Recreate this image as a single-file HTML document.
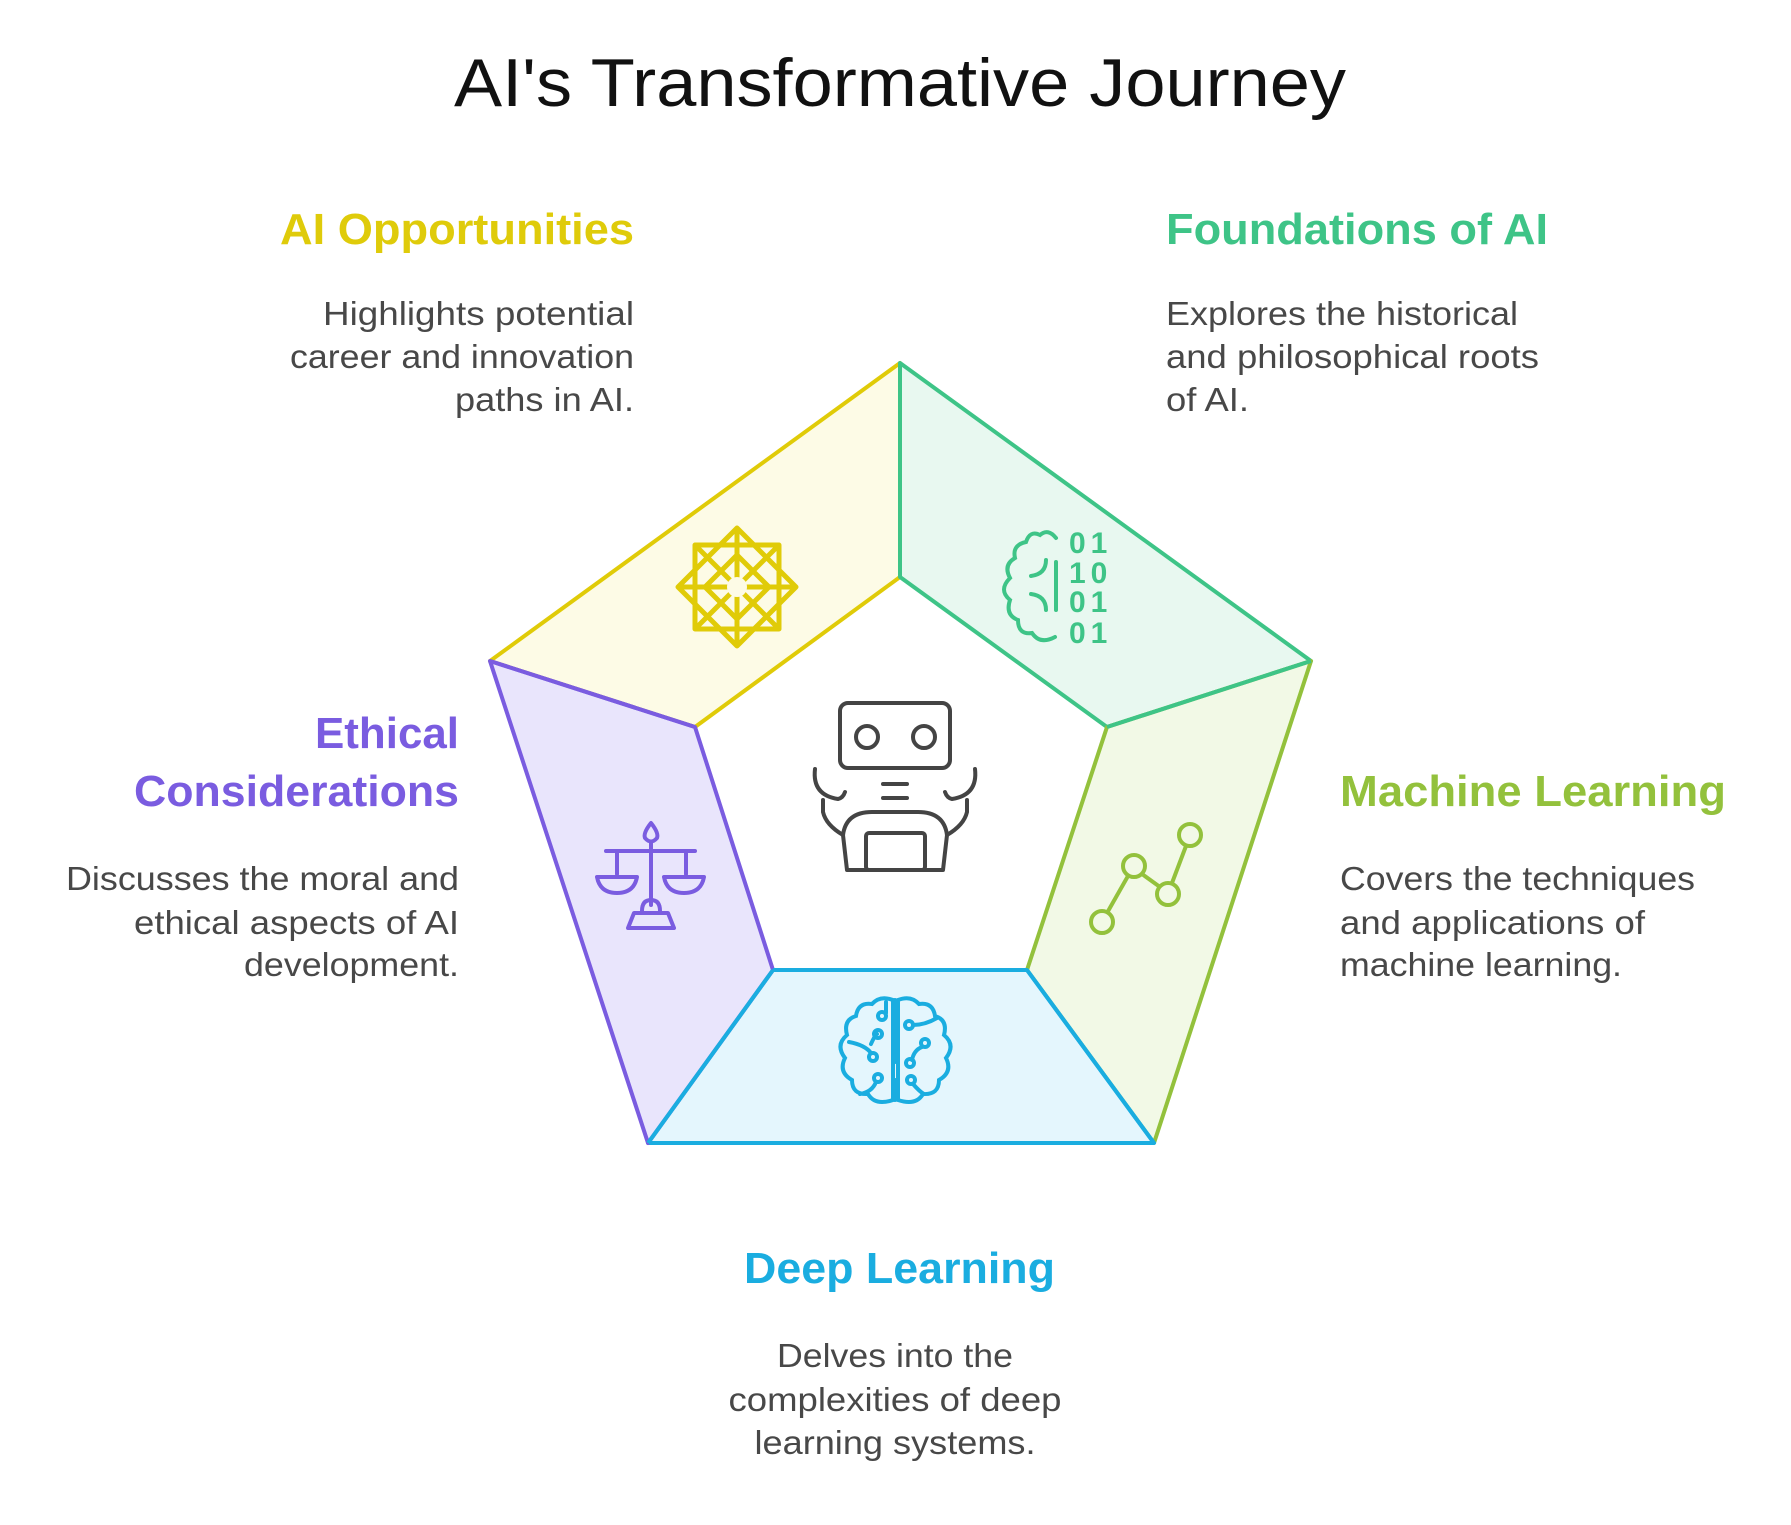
<!DOCTYPE html>
<html><head><meta charset="utf-8"><style>
html,body{margin:0;padding:0;background:#fff;}
svg{display:block}
text{font-family:"Liberation Sans",Arial,sans-serif;}
.h{font-weight:bold;font-size:44px}
.b{font-size:33px;fill:#484848}
</style></head><body>
<svg width="1791" height="1525" viewBox="0 0 1791 1525" xmlns="http://www.w3.org/2000/svg">
<rect width="1791" height="1525" fill="#fff"/>
<text x="900" y="106" text-anchor="middle" font-size="68" fill="#111" textLength="892" lengthAdjust="spacingAndGlyphs">AI's Transformative Journey</text>

<g stroke-width="4" stroke-linejoin="round">
<polygon points="900,363 900,577 695,727 490,661" fill="#fdfbe6" stroke="#e0cb08"/>
<polygon points="900,363 1311,661 1107,727 900,577" fill="#e8f8f0" stroke="#3ec487"/>
<polygon points="1311,661 1154,1143 1027,970 1107,727" fill="#f2f9e6" stroke="#93c13c"/>
<polygon points="1154,1143 648,1143 773,970 1027,970" fill="#e4f6fd" stroke="#1aade0"/>
<polygon points="648,1143 490,661 695,727 773,970" fill="#e9e5fc" stroke="#7a5ce0"/>
</g>
<g stroke-width="4" fill="none">
<line x1="900" y1="363" x2="900" y2="577" stroke="#3ec487"/>
<line x1="490" y1="661" x2="695" y2="727" stroke="#7a5ce0"/>
<line x1="1311" y1="661" x2="1107" y2="727" stroke="#3ec487"/>
<line x1="773" y1="970" x2="1027" y2="970" stroke="#1aade0"/>
<line x1="648" y1="1143" x2="773" y2="970" stroke="#1aade0"/>
<line x1="1154" y1="1143" x2="1027" y2="970" stroke="#1aade0"/>
</g>

<text class="h" x="634" y="244" text-anchor="end" fill="#dfcb0a" textLength="354" lengthAdjust="spacingAndGlyphs">AI Opportunities</text>
<text class="h" x="1166" y="244" fill="#3ec487" textLength="382" lengthAdjust="spacingAndGlyphs">Foundations of AI</text>
<text class="h" x="459" y="748" text-anchor="end" fill="#7a5ce0" textLength="144" lengthAdjust="spacingAndGlyphs">Ethical</text>
<text class="h" x="459" y="806" text-anchor="end" fill="#7a5ce0" textLength="325" lengthAdjust="spacingAndGlyphs">Considerations</text>
<text class="h" x="1340" y="806" fill="#93c13c" textLength="386" lengthAdjust="spacingAndGlyphs">Machine Learning</text>
<text class="h" x="744" y="1283" fill="#1aade0" textLength="311" lengthAdjust="spacingAndGlyphs">Deep Learning</text>

<g>
<text class="b" x="634" y="325" text-anchor="end" textLength="311" lengthAdjust="spacingAndGlyphs">Highlights potential</text>
<text class="b" x="634" y="368" text-anchor="end" textLength="344" lengthAdjust="spacingAndGlyphs">career and innovation</text>
<text class="b" x="634" y="411" text-anchor="end" textLength="179" lengthAdjust="spacingAndGlyphs">paths in AI.</text>
<text class="b" x="1166" y="325" textLength="352" lengthAdjust="spacingAndGlyphs">Explores the historical</text>
<text class="b" x="1166" y="368" textLength="373" lengthAdjust="spacingAndGlyphs">and philosophical roots</text>
<text class="b" x="1166" y="411" textLength="83" lengthAdjust="spacingAndGlyphs">of AI.</text>
<text class="b" x="459" y="890" text-anchor="end" textLength="393" lengthAdjust="spacingAndGlyphs">Discusses the moral and</text>
<text class="b" x="459" y="934" text-anchor="end" textLength="325" lengthAdjust="spacingAndGlyphs">ethical aspects of AI</text>
<text class="b" x="459" y="976" text-anchor="end" textLength="215" lengthAdjust="spacingAndGlyphs">development.</text>
<text class="b" x="1340" y="890" textLength="355" lengthAdjust="spacingAndGlyphs">Covers the techniques</text>
<text class="b" x="1340" y="934" textLength="305" lengthAdjust="spacingAndGlyphs">and applications of</text>
<text class="b" x="1340" y="976" textLength="282" lengthAdjust="spacingAndGlyphs">machine learning.</text>
<text class="b" x="895" y="1367" text-anchor="middle" textLength="236" lengthAdjust="spacingAndGlyphs">Delves into the</text>
<text class="b" x="895" y="1411" text-anchor="middle" textLength="333" lengthAdjust="spacingAndGlyphs">complexities of deep</text>
<text class="b" x="895" y="1454" text-anchor="middle" textLength="281" lengthAdjust="spacingAndGlyphs">learning systems.</text>
</g>

<g fill="none" stroke="#444" stroke-width="4" stroke-linecap="round" stroke-linejoin="round">
<rect x="840" y="703" width="110" height="65" rx="8"/>
<circle cx="867" cy="737" r="11"/>
<circle cx="924" cy="737" r="11"/>
<line x1="883" y1="784" x2="907" y2="784"/>
<line x1="883" y1="798" x2="907" y2="798"/>
<path d="M815 769 Q812 795 838 799 Q843 798 845 792"/>
<path d="M975 769 Q978 795 952 799 Q947 798 945 792"/>
<path d="M823 800 L823 812 Q826 825 843 835"/>
<path d="M967 800 L967 812 Q964 825 947 835"/>
<path d="M843 835 Q846 812 872 812 L918 812 Q944 812 947 835 L943 870 L847 870 Z"/>
<rect x="866" y="833" width="59" height="37" rx="3"/>
</g>

<g fill="none" stroke="#e0cb08" stroke-width="5" stroke-linejoin="round">
<rect x="695" y="545" width="84" height="84"/>
<polygon points="737,528 796,587 737,646 678,587"/>
<polygon points="737,555 769,587 737,619 705,587"/>
<line x1="737" y1="528" x2="737" y2="646"/>
<line x1="678" y1="587" x2="796" y2="587"/>
<line x1="695" y1="545" x2="779" y2="629"/>
<line x1="779" y1="545" x2="695" y2="629"/>
</g>
<circle cx="737" cy="587" r="10" fill="#fdfbe6"/>

<g fill="none" stroke="#3ec487" stroke-width="4" stroke-linecap="round">
<path d="M1056 538 Q1048 528 1040 535 Q1030 530 1026 542 Q1012 545 1015 558 Q1003 565 1010 578 Q998 590 1010 600 Q1005 615 1018 620 Q1018 635 1032 633 Q1040 645 1055 637"/>
<path d="M1046 560 Q1046 574 1031 576"/>
<path d="M1031 594 Q1046 596 1046 610"/>
<line x1="1056" y1="562" x2="1056" y2="610"/>
</g>
<g fill="#3ec487" font-family="Liberation Mono,monospace" font-size="30" font-weight="bold" letter-spacing="5">
<text x="1069" y="553">01</text>
<text x="1069" y="583">10</text>
<text x="1069" y="612">01</text>
<text x="1069" y="643">01</text>
</g>

<g fill="none" stroke="#7a5ce0" stroke-width="4" stroke-linecap="round" stroke-linejoin="round">
<path d="M651 823 Q643 833 645 838 Q651 845 657 838 Q659 833 651 823 Z"/>
<line x1="651" y1="843" x2="651" y2="905"/>
<line x1="606" y1="851" x2="695" y2="851"/>
<line x1="617" y1="851" x2="617" y2="874"/>
<line x1="686" y1="851" x2="686" y2="874"/>
<path d="M597 877 L637 877 Q634 893 617 893 Q600 893 597 877 Z"/>
<path d="M664 877 L704 877 Q701 893 684 893 Q667 893 664 877 Z"/>
<path d="M642 911 Q642 900 651 900 Q660 900 660 911"/>
<path d="M634 913 L668 913 L674 928 L628 928 Z"/>
</g>

<g fill="none" stroke="#93c13c" stroke-width="4">
<line x1="1107" y1="913" x2="1128" y2="876"/>
<line x1="1142" y1="874" x2="1160" y2="887"/>
<line x1="1172" y1="883" x2="1186" y2="846"/>
<circle cx="1102" cy="922" r="11"/>
<circle cx="1134" cy="866" r="11"/>
<circle cx="1168" cy="894" r="11"/>
<circle cx="1190" cy="835" r="11"/>
</g>

<g fill="none" stroke="#1aade0" stroke-width="4" stroke-linecap="round">
<path d="M893 1000 Q880 995 872 1004 Q858 1002 856 1016 Q843 1020 847 1035 Q835 1045 845 1058 Q838 1072 852 1080 Q852 1095 868 1094 Q875 1106 893 1100 Z"/>
<path d="M898 1000 Q911 995 919 1004 Q933 1002 935 1016 Q948 1020 944 1035 Q956 1045 946 1058 Q953 1072 939 1080 Q939 1095 923 1094 Q916 1106 898 1100 Z"/>
<line x1="895" y1="1000" x2="895" y2="1062"/>
<line x1="895" y1="1080" x2="895" y2="1100"/>
<path d="M886 1002 L886 1013"/><circle cx="882" cy="1016" r="4"/>
<path d="M871 1044 Q875 1035 877 1034"/><circle cx="878" cy="1034" r="4"/>
<circle cx="873" cy="1057" r="4"/><path d="M871 1053 Q865 1045 849 1042"/>
<circle cx="878" cy="1078" r="4"/><path d="M876 1082 Q872 1092 860 1094"/>
<circle cx="909" cy="1025" r="4"/><path d="M913 1025 Q925 1025 937 1018"/>
<circle cx="925" cy="1043" r="4"/><path d="M922 1047 Q914 1050 912 1060"/>
<circle cx="910" cy="1063" r="4"/>
<circle cx="911" cy="1080" r="4"/><path d="M913 1084 Q920 1092 924 1094"/>
</g>
</svg>
</body></html>
